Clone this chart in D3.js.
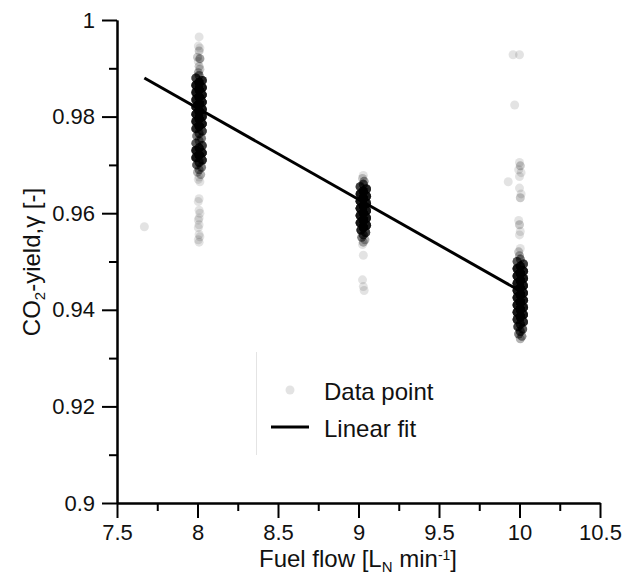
<!DOCTYPE html>
<html>
<head>
<meta charset="utf-8">
<script src="https://cdn.jsdelivr.net/npm/d3@7"></script>
<style>
  body { margin: 0; background: #fff; }
  svg { display: block; font-family: "Liberation Sans", Arial, sans-serif; }
</style>
</head>
<body>
<div id="chart"></div>
<script>
const chartWidth = 624
const chartHeight = 579

const xTicks = [7.5, 8, 8.5, 9, 9.5, 10, 10.5]
const xMinorTicks = [7.75, 8.25, 8.75, 9.25, 9.75, 10.25]
const yTicks = [0.9, 0.92, 0.94, 0.96, 0.98, 1]
const yMinorTicks = [0.91, 0.93, 0.95, 0.97, 0.99]

// [fuel flow, CO2 yield, number of readings at that spot]
const stray = [[7.67, 0.9572, 1]]

const flow8 = [
    [8.01, 0.9965, 1], [8.005, 0.9946, 1], [8.015, 0.9942, 1], [8.01, 0.9936, 2], [8.0, 0.9923, 2],
    [8.015, 0.9920, 4], [8.005, 0.9914, 1], [8.01, 0.9904, 2], [8.015, 0.9898, 2], [8.005, 0.9891, 3],
    [8.01, 0.9885, 6], [7.99, 0.9880, 12], [8.03, 0.9875, 16], [8.01, 0.9870, 20], [7.99, 0.9865, 20],
    [8.03, 0.9860, 20], [8.01, 0.9855, 20], [7.99, 0.9850, 20], [8.03, 0.9845, 20], [8.01, 0.9840, 20],
    [7.99, 0.9835, 20], [8.03, 0.9830, 20], [8.01, 0.9825, 20], [7.99, 0.9820, 20], [8.03, 0.9815, 20],
    [8.01, 0.9810, 20], [7.99, 0.9805, 20], [8.03, 0.9800, 20], [8.01, 0.9795, 20], [7.99, 0.9790, 20],
    [8.03, 0.9785, 20], [8.01, 0.9780, 20], [7.99, 0.9775, 16], [8.03, 0.9770, 12],
    [8.01, 0.9765, 9], [7.995, 0.9760, 6], [8.025, 0.9755, 6], [8.01, 0.9750, 6], [7.99, 0.9745, 9],
    [8.03, 0.9740, 12], [8.01, 0.9735, 16], [7.99, 0.9730, 20], [8.03, 0.9725, 20], [8.01, 0.9720, 20],
    [7.99, 0.9715, 20], [8.03, 0.9710, 16], [8.01, 0.9705, 12],
    [7.995, 0.9700, 9], [8.025, 0.9695, 6], [8.01, 0.9690, 5], [8.0, 0.9685, 3], [8.02, 0.9680, 3],
    [8.01, 0.9675, 1], [8.005, 0.9670, 1], [8.015, 0.9665, 1],
    [8.01, 0.9630, 1], [8.005, 0.9624, 1], [8.01, 0.9606, 1], [8.015, 0.9600, 1], [8.01, 0.9590, 1],
    [8.005, 0.9586, 1], [8.01, 0.9576, 1], [8.005, 0.9570, 1], [8.01, 0.9556, 1], [8.015, 0.9551, 1],
    [8.005, 0.9545, 1], [8.01, 0.9540, 1]
]

const flow9 = [
    [9.03, 0.9678, 1], [9.025, 0.9672, 2], [9.035, 0.9666, 4],
    [9.03, 0.9660, 9], [9.01, 0.9655, 12], [9.05, 0.9650, 16], [9.03, 0.9645, 20], [9.01, 0.9640, 20],
    [9.05, 0.9635, 20], [9.03, 0.9630, 20], [9.01, 0.9625, 20], [9.05, 0.9620, 20], [9.03, 0.9615, 20],
    [9.01, 0.9610, 20], [9.05, 0.9605, 20], [9.03, 0.9600, 20], [9.01, 0.9595, 20], [9.05, 0.9590, 20],
    [9.03, 0.9585, 20], [9.01, 0.9580, 20], [9.05, 0.9575, 20], [9.03, 0.9570, 20], [9.015, 0.9565, 16],
    [9.045, 0.9560, 12], [9.03, 0.9555, 9],
    [9.02, 0.9550, 6], [9.04, 0.9545, 3], [9.03, 0.9540, 3], [9.025, 0.9535, 1],
    [9.03, 0.9513, 1], [9.025, 0.9462, 1], [9.03, 0.9448, 1], [9.035, 0.9440, 1]
]

const flow10 = [
    [9.96, 0.9928, 1], [10.0, 0.9928, 1], [9.97, 0.9824, 1],
    [10.0, 0.9705, 1], [10.005, 0.9698, 2], [9.995, 0.9690, 1], [10.01, 0.9684, 1], [10.0, 0.9676, 1],
    [9.93, 0.9665, 1], [10.0, 0.9652, 1], [10.01, 0.9640, 1], [10.005, 0.9632, 2],
    [9.995, 0.9585, 1], [10.0, 0.9576, 2], [10.005, 0.9562, 1], [10.0, 0.9555, 1],
    [10.005, 0.9527, 1], [9.995, 0.9520, 2], [10.0, 0.9512, 3],
    [10.005, 0.9505, 6], [9.985, 0.9500, 9], [10.025, 0.9495, 12], [10.005, 0.9490, 16], [9.985, 0.9485, 20],
    [10.025, 0.9480, 20], [10.005, 0.9475, 20], [9.985, 0.9470, 20], [10.025, 0.9465, 20], [10.005, 0.9460, 20],
    [9.985, 0.9455, 20], [10.025, 0.9450, 20], [10.005, 0.9445, 20], [9.985, 0.9440, 20], [10.025, 0.9435, 20],
    [10.005, 0.9430, 20], [9.985, 0.9425, 20], [10.025, 0.9420, 20], [10.005, 0.9415, 20], [9.985, 0.9410, 20],
    [10.025, 0.9405, 20], [10.005, 0.9400, 20], [9.985, 0.9395, 20], [10.025, 0.9390, 20], [10.005, 0.9385, 20],
    [9.985, 0.9380, 16], [10.025, 0.9375, 16], [10.005, 0.9370, 12], [9.99, 0.9365, 12], [10.02, 0.9360, 9],
    [10.005, 0.9355, 9], [9.995, 0.9350, 6], [10.015, 0.9345, 5], [10.005, 0.9340, 3]
]

const fitFlow = [7.67, 10.03]
const fitYield = [0.988, 0.9434]

const svg = d3.select('#chart')
    .append('svg')
    .attr('width', chartWidth)
    .attr('height', chartHeight)

const xScale = d3.scaleLinear()
    .domain([7.5, 10.5])
    .range([117, 600])

const yScale = d3.scaleLinear()
    .domain([0.9, 1])
    .range([503, 20])

// each row stands for n readings drawn on top of each other
const readings = [...stray, ...flow8, ...flow9, ...flow10]
    .flatMap(([x, y, n]) => d3.range(n).map(() => ({ x, y })))

svg.append('g')
    .selectAll('circle')
    .data(readings)
    .enter()
    .append('circle')
    .attr('cx', d => xScale(d.x))
    .attr('cy', d => yScale(d.y))
    .attr('r', 4.5)
    .attr('fill', '#000')
    .attr('fill-opacity', 0.11)

svg.append('line')
    .attr('x1', xScale(fitFlow[0]))
    .attr('y1', yScale(fitYield[0]))
    .attr('x2', xScale(fitFlow[1]))
    .attr('y2', yScale(fitYield[1]))
    .attr('stroke', '#000')
    .attr('stroke-width', 3)

const styleAxis = g => {
    g.selectAll('path, line').attr('stroke', '#000').attr('stroke-width', 2)
    g.selectAll('text').attr('font-size', 22).attr('fill', '#111')
    g.attr('font-family', null)
}

// minor ticks first, majors + labels on top
svg.append('g')
    .attr('transform', `translate(0, ${yScale(0.9)})`)
    .call(d3.axisBottom(xScale).tickValues(xMinorTicks).tickSize(8).tickSizeOuter(0).tickFormat(''))
    .call(styleAxis)
svg.append('g')
    .attr('transform', `translate(0, ${yScale(0.9)})`)
    .call(d3.axisBottom(xScale).tickValues(xTicks).tickSize(15).tickSizeOuter(0).tickPadding(6)
        .tickFormat(d => String(d)))
    .call(styleAxis)

svg.append('g')
    .attr('transform', `translate(${xScale(7.5)}, 0)`)
    .call(d3.axisLeft(yScale).tickValues(yMinorTicks).tickSize(8).tickSizeOuter(0).tickFormat(''))
    .call(styleAxis)
svg.append('g')
    .attr('transform', `translate(${xScale(7.5)}, 0)`)
    .call(d3.axisLeft(yScale).tickValues(yTicks).tickSize(15).tickSizeOuter(0).tickPadding(7)
        .tickFormat(d => String(d)))
    .call(styleAxis)

// axis titles
const xTitle = svg.append('text')
    .attr('x', 358)
    .attr('y', 567)
    .attr('text-anchor', 'middle')
    .attr('font-size', 24)
    .attr('fill', '#111')
xTitle.append('tspan').text('Fuel flow [L')
xTitle.append('tspan').attr('font-size', 15).attr('dy', 5).text('N')
xTitle.append('tspan').attr('dy', -5).text(' min')
xTitle.append('tspan').attr('font-size', 14).attr('dy', -7).text('-1')
xTitle.append('tspan').attr('dy', 7).text(']')

const yTitle = svg.append('text')
    .attr('transform', 'translate(40, 262) rotate(-90)')
    .attr('text-anchor', 'middle')
    .attr('font-size', 24)
    .attr('fill', '#111')
yTitle.append('tspan').text('CO')
yTitle.append('tspan').attr('font-size', 15).attr('dy', 5).text('2')
yTitle.append('tspan').attr('dy', -5).text('-yield,γ [-]')

// legend
const legend = svg.append('g')
legend.append('line')
    .attr('x1', 256.5).attr('x2', 256.5)
    .attr('y1', 352).attr('y2', 455)
    .attr('stroke', '#e4e4e4')
    .attr('stroke-width', 1)
legend.append('circle')
    .attr('cx', 290).attr('cy', 390)
    .attr('r', 4.5)
    .attr('fill', '#000')
    .attr('fill-opacity', 0.11)
legend.append('text')
    .attr('x', 324).attr('y', 400)
    .attr('font-size', 24)
    .attr('fill', '#111')
    .text('Data point')
legend.append('line')
    .attr('x1', 271).attr('x2', 309)
    .attr('y1', 427).attr('y2', 427)
    .attr('stroke', '#000')
    .attr('stroke-width', 3)
legend.append('text')
    .attr('x', 324).attr('y', 437)
    .attr('font-size', 24)
    .attr('fill', '#111')
    .text('Linear fit')
</script>
</body>
</html>
